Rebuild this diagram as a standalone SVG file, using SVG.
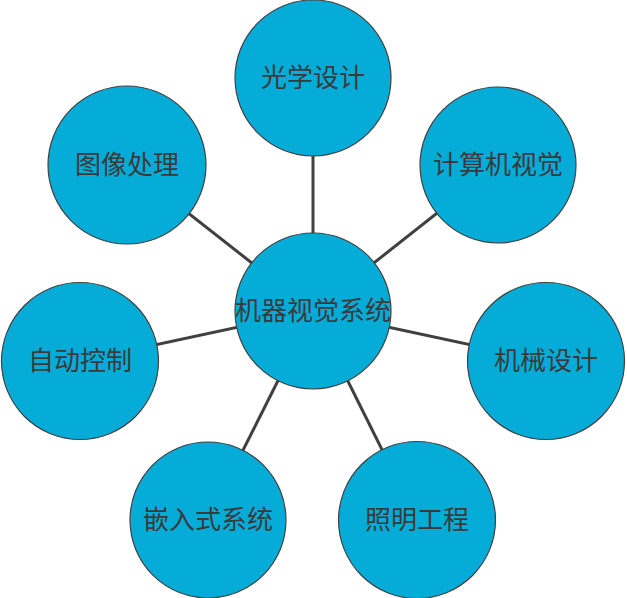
<svg xmlns="http://www.w3.org/2000/svg" width="627" height="598" viewBox="0 0 627 598">
<style>
.n{fill:#05ACD8;stroke:#404040;stroke-width:1.2}
.t{font-family:"Noto Sans CJK SC","Noto Sans",sans-serif;font-size:26px;fill:#3a3a3a;text-anchor:middle}
.c line{stroke:#404040;stroke-width:3}
</style>
<rect width="627" height="598" fill="#fff"/>
<g id="connectors" class="c">
<line x1="313" y1="311" x2="313" y2="78"/>
<line x1="313" y1="311" x2="498" y2="165"/>
<line x1="313" y1="311" x2="127" y2="165"/>
<line x1="313" y1="311" x2="80" y2="361"/>
<line x1="313" y1="311" x2="546" y2="361"/>
<line x1="313" y1="311" x2="208" y2="520"/>
<line x1="313" y1="311" x2="417" y2="520"/>
</g>
<g id="n-optics"><circle class="n" cx="313" cy="78" r="78"/><text class="t" x="313" y="87">光学设计</text></g>
<g id="n-cv"><circle class="n" cx="498" cy="165" r="78"/><text class="t" x="498" y="174">计算机视觉</text></g>
<g id="n-img"><circle class="n" cx="127" cy="165" r="79"/><text class="t" x="127" y="174">图像处理</text></g>
<g id="n-ctrl"><circle class="n" cx="80" cy="361" r="78.5"/><text class="t" x="80" y="370">自动控制</text></g>
<g id="n-mech"><circle class="n" cx="546" cy="361" r="78.5"/><text class="t" x="546" y="370">机械设计</text></g>
<g id="n-emb"><circle class="n" cx="208" cy="520" r="78"/><text class="t" x="208" y="529">嵌入式系统</text></g>
<g id="n-light"><circle class="n" cx="417" cy="520" r="78.5"/><text class="t" x="417" y="529">照明工程</text></g>
<g id="n-center"><circle class="n" cx="313" cy="311" r="78"/><text class="t" x="313" y="320">机器视觉系统</text></g>
</svg>
